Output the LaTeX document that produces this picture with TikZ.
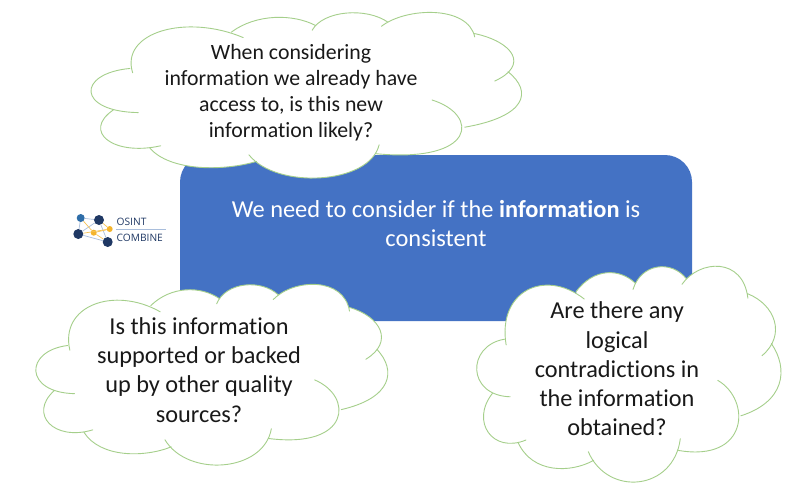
\documentclass[tikz,border=0pt]{standalone}
\usepackage{fontspec}
\setmainfont{Carlito}[RawFeature={-liga}]
\newfontfamily\logofont{Open Sans}
\definecolor{boxblue}{HTML}{4472C4}
\definecolor{cloudgreen}{HTML}{A5CF8B}
\definecolor{logonavy}{HTML}{1F3864}
\definecolor{logoblue}{HTML}{2E6DA8}
\definecolor{logoyellow}{HTML}{F4B42C}
\definecolor{logoline}{HTML}{A9BEDC}
\tikzset{
  cloudline/.style={draw=cloudgreen,line width=0.9pt,line cap=round},
  cloudtext/.style={text=black!90,align=center,inner sep=0pt,font=\fontsize{24.3}{29.2}\selectfont},
  topcloudtext/.style={text=black!90,align=center,inner sep=0pt,font=\fontsize{21.8}{26}\selectfont},
  dotnode/.style={circle,inner sep=0pt,minimum size=#1},
  logolink/.style={draw=logoline,line width=0.7pt},
  logolinky/.style={draw=logoyellow!80!white,line width=0.7pt},
  logotext/.style={text=logonavy,inner sep=0pt,anchor=west,font=\logofont\fontsize{10.2}{11}\selectfont},
}
\newcommand{\lobepath}[1]{%
  \ifcase#1\relax
  \or (158,218) .. controls (120,95) and (320,40) .. (490,112)
  \or (455,95) .. controls (530,40) and (640,40) .. (708,76)
  \or (697,90) .. controls (730,30) and (860,20) .. (925,66)
  \or (905,78) .. controls (980,20) and (1165,15) .. (1185,110)
  \or (1185,100) .. controls (1300,125) and (1350,195) .. (1245,243)
  \or (1285,215) .. controls (1360,275) and (1340,350) .. (1155,382)
  \or (1057,300) .. controls (1200,345) and (1190,490) .. (890,462)
  \or (898,435) .. controls (870,555) and (590,570) .. (507,465)
  \or (530,485) .. controls (430,515) and (270,515) .. (210,445)
  \or (242,438) .. controls (100,470) and (5,395) .. (100,330)
  \or (175,338) .. controls (-10,335) and (-10,220) .. (150,205)
  \fi}
\newcommand{\lobes}{%
  \foreach \n in {1,...,11}{\fill[white] \lobepath{\n} -- (650,290) -- cycle;}
  \fill[white] (150,205)--(460,97)--(703,78)--(920,63)--(1185,100)--(1285,215)--(1155,382)--(893,462)--(525,484)--(212,445)--(100,332)--cycle;
  \draw[cloudline] \lobepath{1} \lobepath{2} \lobepath{3} \lobepath{4} \lobepath{5} \lobepath{6} \lobepath{7} \lobepath{8} \lobepath{9} \lobepath{10} \lobepath{11};
}
\newcommand{\cloudat}[4]{%
  \pgfmathsetmacro{\csx}{#3/1300}%
  \pgfmathsetmacro{\csy}{#4/497}%
  \pgfmathsetmacro{\cox}{#1-30*\csx}%
  \pgfmathsetmacro{\coy}{#2-38*\csy}%
  \begin{scope}[shift={(\cox,\coy)},x=\csx pt,y=-\csy pt]
    \lobes
  \end{scope}
}
\begin{document}
\begin{tikzpicture}[x=1pt,y=-1pt]
\useasboundingbox (0,0) rectangle (800,499);
\fill[white] (0,0) rectangle (800,499);
% logo
\node[dotnode=8pt,fill=logoblue] (la) at (80.7,218) {};
\node[dotnode=10pt,fill=logonavy] (lb) at (99,220) {};
\node[dotnode=10pt,fill=logonavy] (lc) at (78.3,234) {};
\node[dotnode=10pt,fill=logonavy] (ld) at (107.7,242) {};
\node[dotnode=6pt,fill=logoyellow] (le) at (109.7,229) {};
\node[dotnode=6pt,fill=logoyellow] (lf) at (93.7,232.7) {};
\draw[logolink] (la) -- (lb);
\draw[logolink] (la) -- (lc);
\draw[logolink] (lb) -- (lc);
\draw[logolink] (lc) -- (ld);
\draw[logolink] (lb) -- (ld);
\draw[logolinky] (lb) -- (le);
\draw[logolinky] (la) -- (lf);
\draw[logolinky] (lf) -- (le);
\draw[logolinky] (lf) -- (ld);
\draw[logolinky] (lc) -- (le);
\node[logotext] (osint) at (116.5,221.5) {OSINT};
\coordinate (rulea) at (116,228.8);
\coordinate (ruleb) at (166,228.8);
\draw[logoline,line width=0.6pt] (rulea) -- (ruleb);
\node[logotext] (combine) at (116.5,238) {COMBINE};
% central box
\node[draw=none,fill=boxblue,rounded corners=27pt,minimum width=512pt,minimum height=166pt,inner sep=0pt] (box) at (436,238) {};
\node[text=white,align=center,inner sep=0pt,font=\fontsize{24.4}{29}\selectfont] (boxtext) at (436,223.5) {We need to consider if the \textbf{information} is\\consistent};
% clouds
\cloudat{90}{13}{433}{165}
\cloudat{35}{285}{354}{180}
\cloudat{476}{267}{306}{215}
\node[topcloudtext] (t1) at (291,92.5) {When considering\\information we already have\\access to, is this new\\information likely?};
\node[cloudtext] (t2) at (199,370) {Is this information\\supported or backed\\up by other quality\\sources?};
\node[cloudtext] (t3) at (617,369) {Are there any\\logical\\contradictions in\\the information\\obtained?};
\end{tikzpicture}
\end{document}
